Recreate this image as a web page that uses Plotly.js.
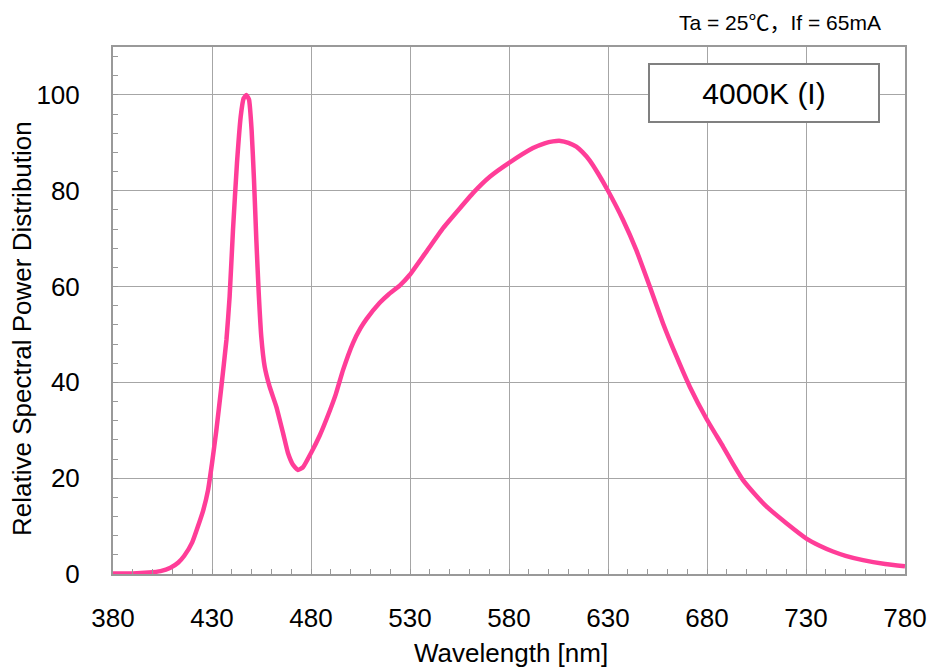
<!DOCTYPE html>
<html>
<head>
<meta charset="utf-8">
<script src="https://cdn.plot.ly/plotly-3.0.1.min.js"></script>
<style>html,body{margin:0;padding:0;background:#fff;}#chart{width:928px;height:669px;}</style>
</head>
<body>
<div id="chart"></div>
<script>
// Wavelength (nm)
const wavelength = [380, 390, 398, 404, 409, 413, 416, 420, 425.5, 428, 430, 432.2, 434.7, 437.3, 438.9, 440.6, 442.6, 444.5, 446, 447.4, 448.7, 450, 451.2, 452.4, 453.6, 454.9, 456.6, 459.1, 462.5, 465.9, 468.4, 470.9, 473.4, 476, 480.2, 484.4, 488, 492.5, 496.2, 501.2, 505, 508, 514.7, 519, 524.8, 529.8, 538.3, 546.7, 555.1, 561.8, 570.3, 580, 592.1, 598, 602.2, 606, 610, 614, 617, 620.8, 625, 630, 637.6, 644.3, 651.1, 657.8, 664.6, 671.3, 680, 688.1, 693.1, 698.2, 704.1, 710, 720.1, 730.2, 736.9, 743.6, 750, 758.8, 770, 780];
// Relative spectral power (%)
const power = [0.1, 0.1, 0.3, 0.6, 1.3, 2.4, 3.8, 6.6, 13.2, 17.5, 23.1, 30, 39, 48.9, 57.9, 71.8, 85.7, 95.5, 99.3, 100, 99, 92.7, 82.3, 69.7, 58.6, 49.5, 43.3, 39.1, 34.9, 29.4, 25.2, 22.8, 21.7, 22.3, 25.4, 28.9, 32.5, 37.5, 42.6, 48.2, 51.3, 53.2, 56.6, 58.3, 60.2, 62.4, 67.3, 72.2, 76.3, 79.5, 82.9, 85.8, 88.9, 89.9, 90.3, 90.4, 90.0, 89.2, 88.1, 86.3, 83.6, 80, 73.9, 67.6, 60, 52.3, 45.4, 39.1, 32.2, 26.6, 23.0, 19.6, 16.7, 14.1, 10.6, 7.4, 5.9, 4.7, 3.8, 2.9, 2.1, 1.6];
const xTicks = [380, 430, 480, 530, 580, 630, 680, 730, 780];
const yTicks = [0, 20, 40, 60, 80, 100];

const FONT = 'Liberation Sans, Arial, Noto Sans CJK SC, sans-serif';
const trace = {
  x: wavelength, y: power, type: 'scatter', mode: 'lines',
  line: {color: '#ff3d98', width: 4.5, shape: 'spline', smoothing: 0.4},
  hoverinfo: 'x+y'
};
const axisCommon = {
  showline: true, linecolor: '#999999', linewidth: 2, mirror: true,
  showgrid: true, gridcolor: '#a6a6a6', gridwidth: 1,
  ticks: 'inside', ticklen: 5, tickcolor: '#999999', tickwidth: 1,
  zeroline: false, tickfont: {family: FONT, size: 26, color: '#000'}
};
const layout = {
  width: 928, height: 669,
  margin: {l: 113, r: 23, t: 47, b: 95},
  paper_bgcolor: '#fff', plot_bgcolor: '#fff',
  showlegend: false,
  font: {family: FONT, color: '#000'},
  xaxis: Object.assign({}, axisCommon, {
    range: [380, 780], tickvals: xTicks, ticktext: xTicks.map(String),
    ticklabelstandoff: 20,
    minor: {dtick: 10, tick0: 380, ticks: 'inside', ticklen: 5, tickcolor: '#999999', showgrid: false}
  }),
  yaxis: Object.assign({}, axisCommon, {
    range: [0, 110], tickvals: yTicks, ticktext: yTicks.map(String),
    ticklabelstandoff: 26,
    minor: {dtick: 4, tick0: 0, ticks: 'inside', ticklen: 5, tickcolor: '#999999', showgrid: false}
  }),
  annotations: [
    {xref: 'paper', yref: 'paper', x: 0.5025, y: -0.15, xanchor: 'center', yanchor: 'middle',
     text: 'Wavelength [nm]', showarrow: false, font: {family: FONT, size: 26, color: '#000'}},
    {xref: 'paper', yref: 'paper', x: -0.1149, y: 0.4668, xanchor: 'center', yanchor: 'middle', textangle: -90,
     text: 'Relative Spectral Power Distribution', showarrow: false, font: {family: FONT, size: 26, color: '#000'}},
    {xref: 'paper', yref: 'paper', x: 0.9722, y: 1.0474, xanchor: 'right', yanchor: 'middle',
     text: 'Ta = 25℃，If = 65mA', showarrow: false, font: {family: FONT, size: 21, color: '#000'}},
    {xref: 'paper', yref: 'paper', x: 0.822, y: 0.9127, xanchor: 'center', yanchor: 'middle',
     text: '4000K (I)', showarrow: false, font: {family: FONT, size: 30, color: '#000'},
     bgcolor: '#fff', bordercolor: '#808080', borderwidth: 2, width: 226, height: 54, borderpad: 1}
  ]
};
Plotly.newPlot('chart', [trace], layout, {displayModeBar: false, staticPlot: true});
</script>
</body>
</html>
